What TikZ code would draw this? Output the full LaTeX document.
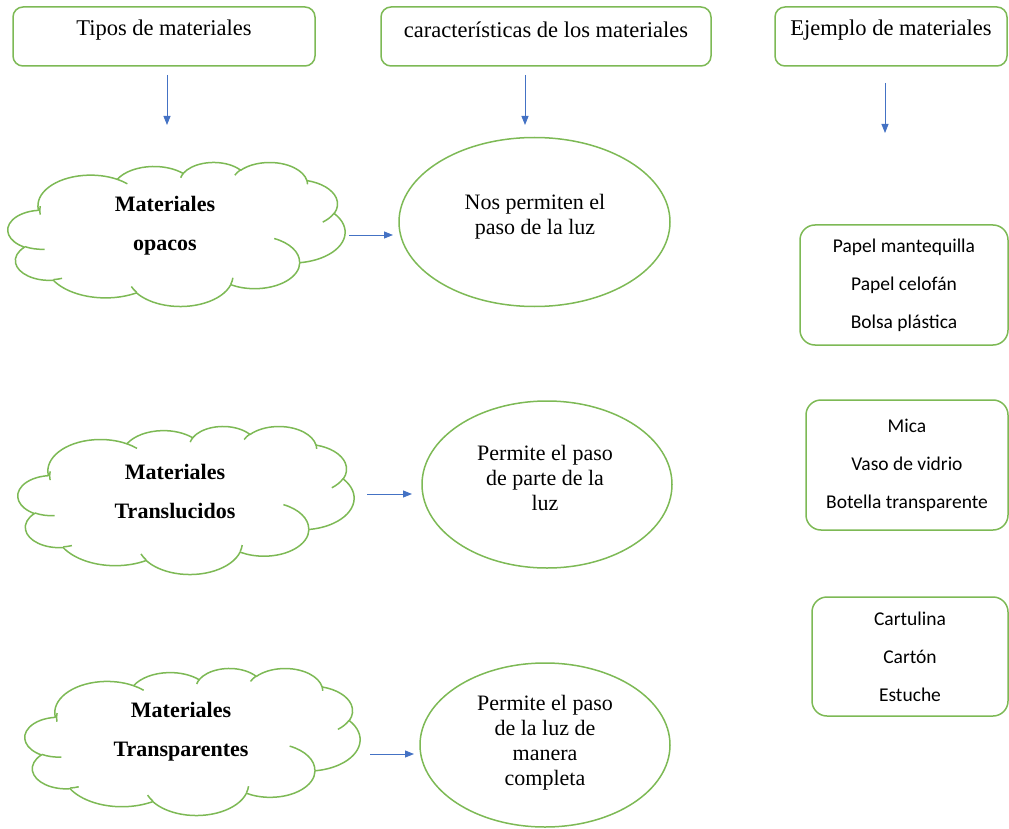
\documentclass[tikz,border=0pt]{standalone}
\usepackage{fontspec}
\setmainfont{Liberation Serif}
\newfontfamily\carl{Carlito}
\usetikzlibrary{shapes.geometric,arrows.meta,calc}
\definecolor{leaf}{RGB}{125,185,85}
\definecolor{arrowblue}{RGB}{68,114,196}

% Cloud outline in a 432 x 432 box, scaled to the box (#1,#2)-(#3,#4)
\newcommand\wordcloud[5]{%
  \begin{scope}[shift={(#1,#2)},xscale={(#3-#1)/432},yscale={(#4-#2)/432}]
    \coordinate (#5) at (216,216);
    \draw[cloudline] (39.00,143.70)
      \foreach \a/\b/\s/\w [evaluate=\s as \ts using {\s+mod(atan2(\a*sin(\s),\b*cos(\s))-\s+540,360)-180},
                            evaluate=\w as \te using {(\s+\w)+mod(atan2(\a*sin(\s+\w),\b*cos(\s+\w))-(\s+\w)+540,360)-180}]
      in {67.53/91.90/-190.4875/123.7805,
          53.33/72.67/-144.1024/89.9452,
          43.65/59.45/-145.8079/99.7230,
          48.57/65.95/-130.9861/117.2417,
          53.33/72.73/-78.7089/109.0269,
          67.75/92.20/-46.2673/130.2690,
          57.85/78.67/0.6250/114.0333,
          67.52/92.15/22.4516/115.1726,
          77.20/105.43/66.2426/75.7110,
          43.60/59.18/-274.9421/146.7356,
          43.45/59.45/-246.8285/152.5189}
      { arc[start angle=\ts,end angle=\te,x radius=\a,y radius=\b] } -- cycle;
    % inner puff edges
    \foreach \x/\y/\a/\b/\s/\w [evaluate=\s as \ts using {\s+mod(atan2(\a*sin(\s),\b*cos(\s))-\s+540,360)-180},
                                evaluate=\w as \te using {(\s+\w)+mod(atan2(\a*sin(\s+\w),\b*cos(\s+\w))-(\s+\w)+540,360)-180}]
      in {46.93/261.77/43.45/59.45/86.742/26.4295,
          69.28/348.99/43.60/59.18/73.6105/11.4475,
          164.78/390.90/67.52/92.15/137.6242/14.0811,
          288.27/347.51/67.52/92.15/6.4533/15.9984,
          341.29/229.54/57.85/78.67/-70.2924/70.9174,
          417.98/153.54/53.33/72.73/30.318/27.7515,
          383.24/54.26/48.57/65.95/-13.7443/14.8589,
          290.78/39.52/48.57/65.95/-149.1815/18.1954,
          221.41/47.20/43.65/59.45/-163.4943/17.6864,
          140.00/51.92/67.53/91.90/-66.7070/12.3194,
          41.27/157.89/67.53/91.90/-190.4875/21.6384}
      { \draw[cloudline] (\x,\y) arc[start angle=\ts,end angle=\te,x radius=\a,y radius=\b]; }
  \end{scope}}

\begin{document}
\begin{tikzpicture}[x=1pt,y=-1pt,
  hdr/.style={draw=leaf,line width=1.5pt,rounded corners=10pt,minimum width=#1,minimum height=59pt,inner sep=0pt},
  hdrtxt/.style={font=\fontsize{22.5}{25}\selectfont,inner sep=0pt},
  cloudline/.style={draw=leaf,line width=1.5pt,line join=round},
  cloudtxt/.style={font=\bfseries\fontsize{22}{39}\selectfont,align=center,inner sep=0pt},
  oval/.style={ellipse,draw=leaf,line width=1.5pt,inner sep=0pt},
  ovaltxt/.style={font=\fontsize{22}{25}\selectfont,align=center,inner sep=0pt},
  listbox/.style={draw=leaf,line width=1.5pt,rounded corners=15pt,align=center,inner sep=0pt,
    font=\carl\fontsize{19.5}{38}\selectfont},
  arr/.style={draw=arrowblue,line width=0.9pt,-{Triangle[length=9pt,width=7pt]}}
]
\useasboundingbox (0,0) rectangle (1009,829);

% column headers
\node[hdr=302pt] (h1) at (164,36.5) {};
\node[hdrtxt] (h1t) at (164,30) {Tipos de materiales};
\node[hdr=330pt] (h2) at (546,36.5) {};
\node[hdrtxt] (h2t) at (546,30) {características de los materiales};
\node[hdr=232pt] (h3) at (891,36.5) {};
\node[hdrtxt] (h3t) at (891,30) {Ejemplo de materiales};

% down arrows under the headers
\coordinate (d1a) at (167,75);  \coordinate (d1b) at (167,125);
\coordinate (d2a) at (525,75);  \coordinate (d2b) at (525,125);
\coordinate (d3a) at (885,83);  \coordinate (d3b) at (885,133);
\draw[arr] (d1a) -- (d1b);
\draw[arr] (d2a) -- (d2b);
\draw[arr] (d3a) -- (d3b);

% clouds with the material types
\wordcloud{8}{162}{345}{306}{c1}
\node[cloudtxt] (c1t) at (165,225.5) {Materiales\\opacos};
\wordcloud{18}{426}{354}{574}{c2}
\node[cloudtxt] (c2t) at (175,491) {Materiales\\Translucidos};
\wordcloud{25}{668}{360}{815}{c3}
\node[cloudtxt] (c3t) at (181,731.5) {Materiales\\Transparentes};

% ellipses with the characteristics
\node[oval,minimum width=271pt,minimum height=169pt] (e1) at (534.5,222) {};
\node[ovaltxt] (e1t) at (535,216.5) {Nos permiten el\\paso de la luz};
\node[oval,minimum width=250pt,minimum height=167pt] (e2) at (547,484.5) {};
\node[ovaltxt] (e2t) at (545,477.5) {Permite el paso\\de parte de la\\luz};
\node[oval,minimum width=250pt,minimum height=164pt] (e3) at (545,745) {};
\node[ovaltxt] (e3t) at (545,743) {Permite el paso\\de la luz de\\manera\\completa};

% arrows from clouds to ellipses
\coordinate (r1a) at (349,235); \coordinate (r1b) at (393,235);
\coordinate (r2a) at (367,494); \coordinate (r2b) at (412,494);
\coordinate (r3a) at (370,754); \coordinate (r3b) at (414,754);
\draw[arr] (r1a) -- (r1b);
\draw[arr] (r2a) -- (r2b);
\draw[arr] (r3a) -- (r3b);

% example lists
\node[listbox,minimum width=208pt,minimum height=120pt] (b1) at (904,285)
  {Papel mantequilla\\Papel celofán\\Bolsa plástica};
\node[listbox,minimum width=202pt,minimum height=130pt] (b2) at (907,465)
  {Mica\\Vaso de vidrio\\Botella transparente};
\node[listbox,minimum width=196pt,minimum height=119pt] (b3) at (910,656.5)
  {Cartulina\\Cartón\\Estuche};
\end{tikzpicture}
\end{document}
